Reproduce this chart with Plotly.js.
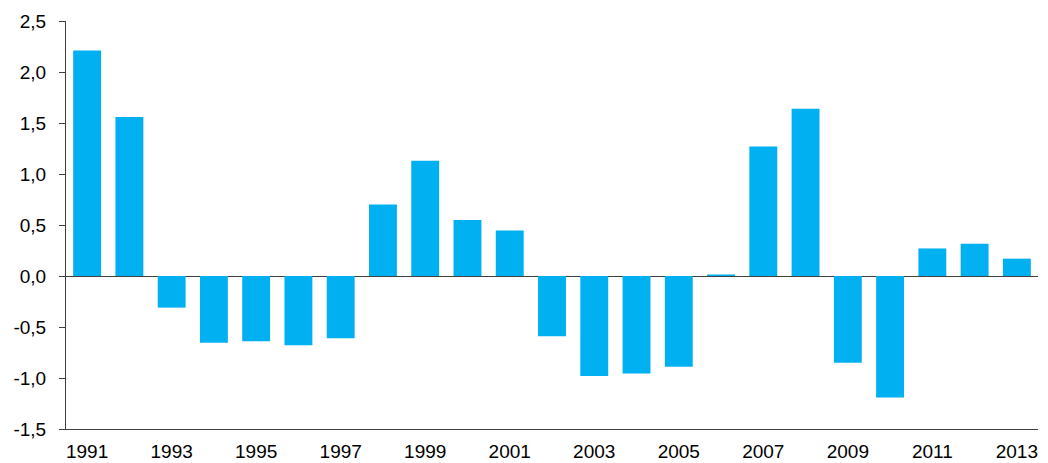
<!DOCTYPE html>
<html>
<head>
<meta charset="utf-8">
<script src="https://cdn.plot.ly/plotly-3.0.1.min.js"></script>
<style>html,body{margin:0;padding:0;background:#fff;}#chart{width:1048px;height:463px;}</style>
</head>
<body>
<div id="chart"></div>
<script>
var years = [1991,1992,1993,1994,1995,1996,1997,1998,1999,2000,2001,2002,2003,2004,2005,2006,2007,2008,2009,2010,2011,2012,2013];
var values = [2.21,1.56,-0.31,-0.655,-0.64,-0.68,-0.61,0.70,1.13,0.55,0.445,-0.59,-0.98,-0.955,-0.89,0.015,1.27,1.64,-0.85,-1.19,0.27,0.315,0.17];
var yTickVals = [-1.5,-1.0,-0.5,0,0.5,1.0,1.5,2.0,2.5];
var yTickText = ['-1,5','-1,0','-0,5','0,0','0,5','1,0','1,5','2,0','2,5'];
var xTickVals = [1991,1993,1995,1997,1999,2001,2003,2005,2007,2009,2011,2013];

Plotly.newPlot('chart', [{
  type: 'bar',
  x: years,
  y: values,
  marker: {color: '#00B0F0', line: {width: 0}},
  width: 0.66,
  hoverinfo: 'x+y'
}], {
  width: 1048, height: 463,
  margin: {l: 66, r: 10, t: 21, b: 34},
  paper_bgcolor: '#fff', plot_bgcolor: '#fff',
  font: {family: 'Liberation Sans, Arial, sans-serif', size: 19, color: '#000'},
  showlegend: false,
  xaxis: {
    range: [1990.5, 2013.5],
    tickvals: xTickVals,
    ticktext: xTickVals.map(String),
    showgrid: false, zeroline: false,
    showline: true, linecolor: '#404040', linewidth: 1,
    ticks: '', ticklabelstandoff: 5,
    tickfont: {size: 19}
  },
  yaxis: {
    range: [-1.5, 2.5],
    tickvals: yTickVals, ticktext: yTickText,
    showgrid: false,
    zeroline: true, zerolinecolor: '#404040', zerolinewidth: 1,
    showline: true, linecolor: '#404040', linewidth: 1,
    ticks: 'outside', ticklen: 6, tickcolor: '#404040',
    ticklabelstandoff: 9,
    tickfont: {size: 19}
  }
}, {displayModeBar: false, staticPlot: true});
</script>
</body>
</html>
